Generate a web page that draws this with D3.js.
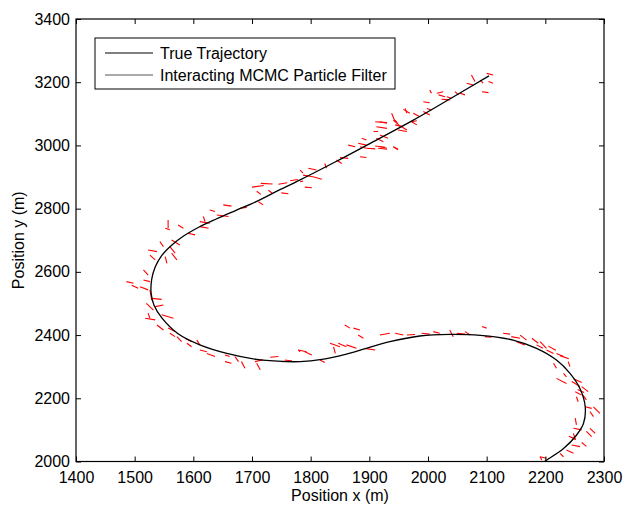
<!DOCTYPE html>
<html><head><meta charset="utf-8">
<script src="https://cdn.jsdelivr.net/npm/d3@7"></script>
<style>body{margin:0;background:#fff}svg{display:block}text{font-family:"Liberation Sans",Arial,sans-serif}</style>
</head><body><div id="chart"></div>
<script>
const xTicks = [1400,1500,1600,1700,1800,1900,2000,2100,2200,2300];
const yTicks = [2000,2200,2400,2600,2800,3000,3200,3400];
const legendLabels = ["True Trajectory","Interacting MCMC Particle Filter"];
const xLabel = "Position x (m)";
const yLabel = "Position y (m)";

// true trajectory [x, y]
const truePath = [[2104,3220],[2040,3150],[1975,3080],[1900,3005],[1840,2946],[1782,2891],[1740,2853],[1708,2823],[1672,2794],[1640,2768],[1610,2742],[1584,2714],[1563,2684],[1546,2651],[1535,2615],[1529,2576],[1528,2534],[1533,2494],[1546,2455],[1574,2404],[1611,2369],[1657,2342],[1708,2323],[1759,2316],[1782,2316],[1816,2322],[1861,2340],[1895,2358],[1935,2379],[1986,2397],[2037,2402],[2089,2399],[2145,2384],[2185,2358],[2219,2321],[2242,2279],[2259,2231],[2268,2173],[2265,2120],[2253,2083],[2231,2041],[2202,2004],[2196,1996]];

// particle filter estimate segments [x1, y1, x2, y2]
const estSegments = [
[2074,3223,2080,3202],[2100,3228,2111,3223],[2103,3202,2111,3197],[2089,3207,2094,3197],[2066,3197,2077,3191],[2092,3170,2103,3167],
[2003,3175,2006,3165],[2015,3165,2026,3170],[2018,3160,2029,3154],[2032,3154,2040,3149],[2046,3170,2052,3160],[2055,3165,2063,3160],
[2023,3146,2037,3144],[1992,3138,2003,3135],[1998,3117,2006,3112],[1958,3114,1969,3102],[1961,3117,1964,3102],[1975,3102,1986,3091],
[1972,3075,1981,3078],[1992,3107,2003,3096],[1938,3102,1944,3075],[1944,3080,1952,3059],[1955,3059,1964,3049],[1918,3075,1930,3070],
[1918,2996,1930,2991],[1941,2996,1949,2988],
[1910,3075,1930,3072],[1941,3080,1947,3070],[1944,3065,1955,3061],[1972,3075,1981,3065],[1912,3059,1930,3054],[1949,3049,1964,3044],
[1907,3044,1915,3044],[1918,3033,1932,3023],[1912,3023,1924,3012],[1887,3023,1895,3017],[1881,3007,1895,3001],[1864,3001,1876,2996],
[1884,2996,1895,2991],[1895,2991,1910,2989],[1910,2998,1927,2994],[1915,2991,1930,2988],[1941,2996,1949,2986],[1884,2964,1895,2962],
[1850,2962,1864,2959],[1844,2954,1853,2943],[1824,2943,1827,2928],[1796,2928,1810,2922],[1782,2922,1787,2912],[1787,2906,1804,2901],
[1804,2901,1819,2893],[1782,2885,1787,2887],[1790,2868,1802,2866],
[1700,2868,1720,2873],[1715,2880,1735,2878],[1745,2877,1760,2882],[1728,2858,1735,2848],[1765,2888,1778,2892],[1708,2855,1715,2845],[1750,2850,1762,2847],
[1651,2812,1665,2808],[1680,2801,1691,2804],[1711,2822,1719,2812],[1628,2796,1637,2791],[1640,2780,1660,2775],[1611,2759,1628,2754],
[1617,2775,1620,2759],[1611,2743,1626,2738],[1591,2722,1603,2717],[1552,2738,1560,2733],[1557,2764,1557,2738],[1574,2748,1583,2738],
[1563,2701,1577,2685],[1543,2696,1549,2680],[1523,2669,1538,2664],[1560,2680,1569,2659],[1563,2659,1572,2638],[1526,2653,1535,2638],
[1552,2648,1555,2627],[1515,2606,1523,2590],[1486,2569,1498,2564],[1495,2558,1506,2548],[1515,2574,1526,2569],[1509,2553,1523,2543],
[1526,2543,1529,2511],[1529,2516,1546,2513],[1520,2500,1532,2479],[1535,2490,1549,2495],[1518,2453,1535,2448],[1523,2469,1526,2453],
[1546,2464,1566,2453],[1538,2432,1549,2416],[1557,2422,1569,2411],[1560,2406,1569,2395],[1572,2395,1580,2379],[1586,2390,1597,2379],
[1589,2374,1597,2363],[1606,2384,1611,2369],[1611,2353,1623,2347],[1623,2342,1637,2332],[1654,2337,1662,2332],[1654,2316,1665,2311],
[1671,2332,1677,2316],[1682,2316,1688,2295],[1705,2316,1719,2322],[1708,2311,1714,2290],[1731,2330,1745,2332],[1751,2316,1768,2318],
[1779,2353,1782,2347],
[1756,2321,1768,2318],[1779,2353,1793,2347],[1790,2347,1802,2337],[1816,2321,1824,2313],[1833,2374,1850,2363],[1839,2363,1842,2342],
[1847,2374,1861,2363],[1861,2369,1878,2358],[1858,2432,1867,2422],[1873,2422,1884,2416],[1881,2400,1890,2390],[1892,2358,1910,2353],
[1918,2400,1935,2406],[1944,2406,1958,2400],[1964,2400,1978,2402],[1989,2406,2003,2403],[2009,2411,2020,2406],[2037,2416,2043,2395],
[2049,2406,2063,2403],[2063,2411,2072,2400],[2092,2427,2100,2422],[2097,2395,2108,2393],[2128,2406,2140,2403],[2142,2395,2157,2390],
[2157,2400,2168,2384],[2151,2379,2165,2369],[2177,2390,2188,2374],[2185,2369,2196,2358],[2191,2379,2202,2358],[2202,2353,2214,2342],
[2219,2342,2231,2332],[2214,2311,2219,2295],[2239,2316,2242,2300],[2219,2263,2236,2247],[2231,2279,2236,2268],[2245,2253,2259,2237],
[2262,2237,2273,2221],[2251,2221,2262,2210],[2253,2205,2256,2189],[2264,2210,2270,2195],[2268,2173,2279,2168],[2282,2173,2293,2152],
[2276,2158,2282,2142],[2251,2137,2253,2116],[2248,2105,2262,2100],[2276,2105,2285,2089],[2270,2095,2279,2079],[2248,2089,2251,2068],
[2245,2052,2259,2047],[2236,2036,2248,2026],[2225,2026,2231,2015],[2191,2015,2202,2010],[2191,2015,2194,2005],
[2205,2365,2218,2352],[2225,2335,2240,2325],[2248,2262,2262,2250],[2255,2228,2266,2218],[2240,2080,2252,2070],[2262,2060,2270,2048]
];

const W = 623, H = 508;
const m = {left:76, right:604, top:19, bottom:461.5};
const svg = d3.select("#chart").append("svg").attr("width", W).attr("height", H);

const x = d3.scaleLinear().domain([1400,2300]).range([m.left, m.right]);
const y = d3.scaleLinear().domain([2000,3400]).range([m.bottom, m.top]);

svg.append("defs").append("clipPath").attr("id","clip")
  .append("rect").attr("x", m.left).attr("y", m.top).attr("width", m.right-m.left).attr("height", m.bottom-m.top);

const plot = svg.append("g").attr("clip-path","url(#clip)");

plot.selectAll("line.est").data(estSegments).join("line").attr("class","est")
  .attr("x1", d => x(d[0])).attr("y1", d => y(d[1]))
  .attr("x2", d => x(d[2])).attr("y2", d => y(d[3]))
  .attr("stroke", "#ff0000").attr("stroke-width", 1.1);

plot.append("path").datum(truePath)
  .attr("d", d3.line().x(d => x(d[0])).y(d => y(d[1])).curve(d3.curveCatmullRom))
  .attr("fill","none").attr("stroke","#000").attr("stroke-width",1.3);

function styleAxis(g){
  g.select(".domain").remove();
  g.selectAll(".tick line").attr("stroke","#000");
  g.selectAll(".tick text").attr("fill","#000").style("font-size","16px").style("font-family","'Liberation Sans',Arial,sans-serif");
}

svg.append("g").attr("transform",`translate(0,${m.bottom})`)
  .call(d3.axisBottom(x).tickValues(xTicks).tickFormat(d3.format("d")).tickSizeInner(-5).tickSizeOuter(0).tickPadding(10))
  .call(styleAxis);
svg.append("g").attr("transform",`translate(0,${m.top})`)
  .call(d3.axisTop(x).tickValues(xTicks).tickFormat("").tickSizeInner(-5).tickSizeOuter(0))
  .call(styleAxis);
svg.append("g").attr("transform",`translate(${m.left},0)`)
  .call(d3.axisLeft(y).tickValues(yTicks).tickFormat(d3.format("d")).tickSizeInner(-5).tickSizeOuter(0).tickPadding(6))
  .call(styleAxis);
svg.append("g").attr("transform",`translate(${m.right},0)`)
  .call(d3.axisRight(y).tickValues(yTicks).tickFormat("").tickSizeInner(-5).tickSizeOuter(0))
  .call(styleAxis);

svg.append("rect").attr("x", m.left).attr("y", m.top).attr("width", m.right-m.left).attr("height", m.bottom-m.top)
  .attr("fill","none").attr("stroke","#000").attr("stroke-width",1.2);

svg.append("text").attr("x", (m.left+m.right)/2).attr("y", 501).attr("text-anchor","middle")
  .style("font-size","16px").text(xLabel);
svg.append("text").attr("transform",`translate(24,${(m.top+m.bottom)/2}) rotate(-90)`).attr("text-anchor","middle")
  .style("font-size","16px").text(yLabel);

// legend
const lg = svg.append("g");
lg.append("rect").attr("x",95).attr("y",38).attr("width",300).attr("height",51)
  .attr("fill","#fff").attr("stroke","#000").attr("stroke-width",1);
const legColors = ["#000","#555"];
legendLabels.forEach((t,i) => {
  const yy = 53 + i*22;
  lg.append("line").attr("x1",105).attr("x2",153).attr("y1",yy).attr("y2",yy).attr("stroke",legColors[i]).attr("stroke-width",1);
  lg.append("text").attr("x",160).attr("y",yy).attr("dy","0.35em").style("font-size","16px").text(t);
});
</script></body></html>
